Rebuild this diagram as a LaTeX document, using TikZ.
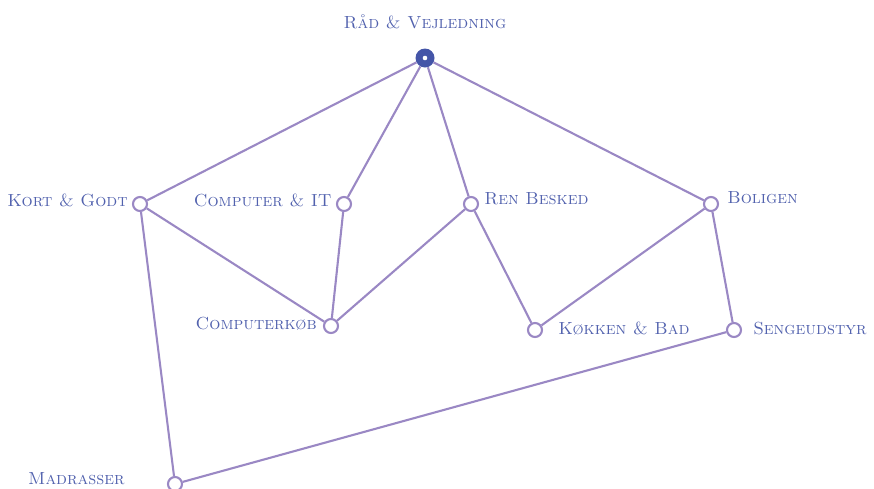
\documentclass[tikz,border=0pt]{standalone}
\definecolor{edgec}{HTML}{9A88C4}
\definecolor{txtc}{HTML}{5262AE}
\definecolor{rootc}{HTML}{4455A8}
\tikzset{
  x=1pt, y=-1pt,
  leaf/.style={circle, draw=edgec, fill=white, line width=2.1pt, minimum size=14pt, inner sep=0pt},
  rootnode/.style={circle, draw=none, fill=rootc, minimum size=19pt, inner sep=0pt},
  lbl/.style={text=txtc, font=\fontsize{17.5}{20}\selectfont\scshape, inner sep=0pt},
  edge/.style={draw=edgec, line width=2.1pt}
}
\begin{document}
\begin{tikzpicture}
\useasboundingbox (0,0) rectangle (874,488);
\node[rootnode] (root) at (425,58) {};
\node[leaf] (kort) at (140,204) {};
\node[leaf] (compit) at (344,204) {};
\node[leaf] (ren) at (471,204) {};
\node[leaf] (bolig) at (711,204) {};
\node[leaf] (ckob) at (331,326) {};
\node[leaf] (kok) at (535,330) {};
\node[leaf] (seng) at (734,330) {};
\node[leaf] (madr) at (175,484) {};

\node[lbl] (rootL) at (425,22) {Råd \& Vejledning};
\node[lbl, anchor=east] (kortL) at ([xshift=-4pt,yshift=4pt]kort.west) {Kort \& Godt};
\node[lbl, anchor=east] (compitL) at ([xshift=-4pt,yshift=4pt]compit.west) {Computer \& IT};
\node[lbl, anchor=west] (renL) at ([xshift=5pt,yshift=5pt]ren.east) {Ren Besked};
\node[lbl, anchor=west] (boligL) at ([xshift=8pt,yshift=6pt]bolig.east) {Boligen};
\node[lbl, anchor=east] (ckobL) at ([xshift=-6pt,yshift=2pt]ckob.west) {Computerkøb};
\node[lbl, anchor=west] (kokL) at ([xshift=15pt,yshift=1pt]kok.east) {Køkken \& Bad};
\node[lbl, anchor=west] (sengL) at ([xshift=11pt,yshift=1pt]seng.east) {Sengeudstyr};
\node[lbl, anchor=east] (madrL) at ([xshift=-42pt,yshift=5pt]madr.west) {Madrasser};

\draw[edge] (root) -- (kort);
\draw[edge] (root) -- (compit);
\draw[edge] (root) -- (ren);
\draw[edge] (root) -- (bolig);
\draw[edge] (kort) -- (ckob);
\draw[edge] (kort) -- (madr);
\draw[edge] (compit) -- (ckob);
\draw[edge] (ren) -- (ckob);
\draw[edge] (ren) -- (kok);
\draw[edge] (bolig) -- (kok);
\draw[edge] (bolig) -- (seng);
\draw[edge] (seng) -- (madr);
\fill[white] (root.center) circle (2.3pt);
\end{tikzpicture}
\end{document}
